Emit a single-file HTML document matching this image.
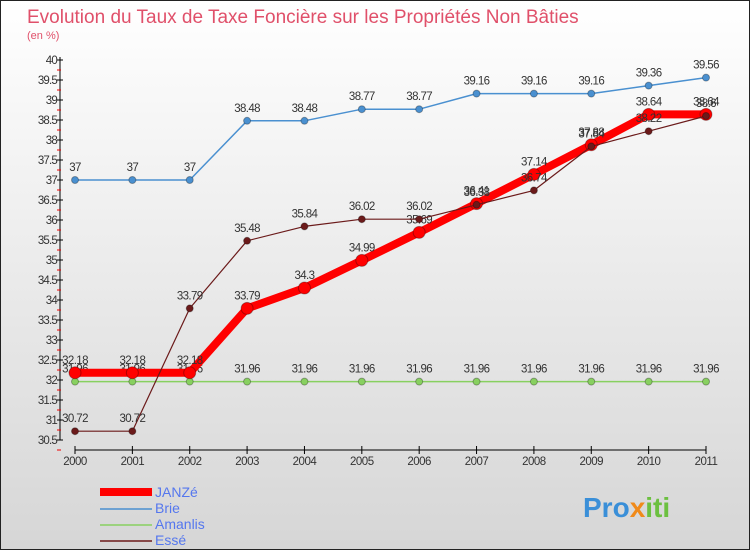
<!DOCTYPE html>
<html><head><meta charset="utf-8"><style>
body{margin:0;width:750px;height:550px;overflow:hidden;font-family:"Liberation Sans",sans-serif}
</style></head><body>
<svg id="c" width="750" height="550" xmlns="http://www.w3.org/2000/svg">
<defs><linearGradient id="bg" x1="0" y1="0" x2="0" y2="1"><stop offset="0" stop-color="#ffffff"/><stop offset="1" stop-color="#d6d6d6"/></linearGradient></defs>
<rect x="0.5" y="0.5" width="749" height="549" fill="url(#bg)" stroke="#222"/>
<text x="27" y="23" font-size="19" fill="#e0506a">Evolution du Taux de Taxe Foncière sur les Propriétés Non Bâties</text>
<text x="27" y="39" font-size="11" fill="#e0506a">(en %)</text>
<g id="axes"></g><g id="series"></g>
<g>
<line x1="100" y1="492" x2="152" y2="492" stroke="#ff0000" stroke-width="8"/>
<text x="155" y="497" font-size="14" fill="#5577ee">JANZé</text>
<line x1="100" y1="509" x2="152" y2="509" stroke="#4a90d0" stroke-width="1.5"/>
<text x="155" y="513" font-size="14" fill="#5577ee">Brie</text>
<line x1="100" y1="525" x2="152" y2="525" stroke="#88d060" stroke-width="1.5"/>
<text x="155" y="529" font-size="14" fill="#5577ee">Amanlis</text>
<line x1="100" y1="541" x2="152" y2="541" stroke="#6b1a1a" stroke-width="1.5"/>
<text x="155" y="545" font-size="14" fill="#5577ee">Essé</text>
</g>
<text x="583" y="517" font-size="28" font-weight="bold" fill="#3a8fd8">Pro<tspan fill="#f08a1a">x</tspan><tspan fill="#6cc040">iti</tspan></text>
</svg>
<script>
const years=[2000,2001,2002,2003,2004,2005,2006,2007,2008,2009,2010,2011];
const janze=[32.18,32.18,32.18,33.79,34.3,34.99,35.69,36.41,37.14,37.88,38.64,38.64];
const brie=[37,37,37,38.48,38.48,38.77,38.77,39.16,39.16,39.16,39.36,39.56];
const amanlis=[31.96,31.96,31.96,31.96,31.96,31.96,31.96,31.96,31.96,31.96,31.96,31.96];
const esse=[30.72,30.72,33.79,35.48,35.84,36.02,36.02,36.38,36.74,37.84,38.22,38.6];
const yTicks=[30.5,31,31.5,32,32.5,33,33.5,34,34.5,35,35.5,36,36.5,37,37.5,38,38.5,39,39.5,40];
const NS="http://www.w3.org/2000/svg";
const x=i=>75+i*(706-75)/(years.length-1);
const y=v=>60+(40-v)*40;
function mk(p,t,a){const e=document.createElementNS(NS,t);for(const k in a)e.setAttribute(k,a[k]);p.appendChild(e);return e;}
const ax=document.getElementById('axes');
let l=mk(ax,'line',{x1:60,y1:57,x2:60,y2:440,stroke:'#000'});


l=mk(ax,'line',{x1:75,y1:450,x2:706,y2:450,stroke:'#000'});


yTicks.forEach(v=>{
 const t=mk(ax,'line',{x1:57,y1:y(v),x2:63,y2:y(v),stroke:'#000'});
 
 
 const m=mk(ax,'line',{x1:57,y1:y(v)+10,x2:61,y2:y(v)+10,stroke:'#e00'});
 
 
 const tx=mk(ax,'text',{x:57,y:y(v)+4,'font-size':11.5,'text-anchor':'end',fill:'#333','letter-spacing':'-0.8'});
 tx.textContent=v;
 
 
});
years.forEach((yr,i)=>{
 const t=mk(ax,'line',{x1:x(i),y1:446,x2:x(i),y2:454,stroke:'#000'});
 
 
 const tx=mk(ax,'text',{x:x(i),y:465,'font-size':11.5,'text-anchor':'middle',fill:'#333','letter-spacing':'-0.5'});
 tx.textContent=yr;
 
 
});
const sg=document.getElementById('series');
function series(vals,name,color,w,r){
 const g=mk(sg,'g',{});
 
 
 const pl=mk(g,'polyline',{points:vals.map((v,i)=>x(i)+','+y(v)).join(' '),fill:'none',stroke:color,'stroke-width':w,'stroke-linejoin':'round'});
 
 
 vals.forEach((v,i)=>{
  const c=mk(g,'circle',{cx:x(i),cy:y(v),r:r,fill:color,stroke:'rgba(0,0,0,0.3)'});
  
  
  const tx=mk(g,'text',{x:x(i),y:y(v)-9,'font-size':11.5,'text-anchor':'middle',fill:'#333','letter-spacing':'-0.6'});
  tx.textContent=v;
  
  
 });
}
series(brie,'brie','#4a90d0',1.5,3.5);
series(amanlis,'amanlis','#88d060',1.5,3.5);
series(janze,'janze','#ff0000',8,6);
series(esse,'esse','#6b1a1a',1.2,3.5);
</script>
</body></html>
